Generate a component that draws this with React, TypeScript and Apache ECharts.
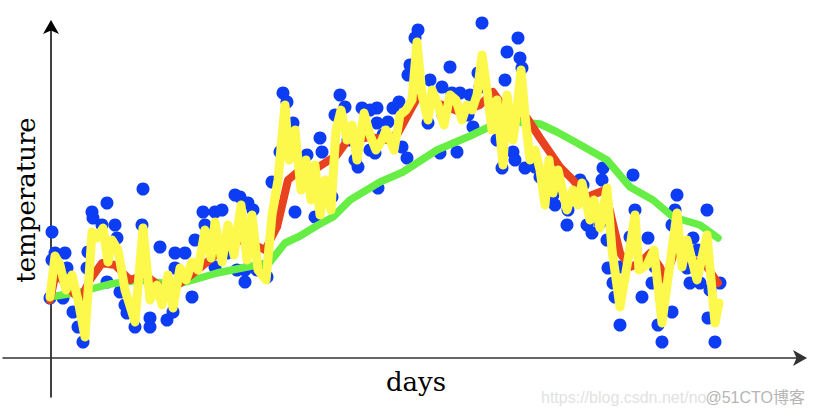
import React, { useEffect, useRef } from "react";
import * as echarts from "echarts";

// Blue measured points (day, temperature)
const blueDays = [-0.5, 0.5, 0.5, 2, 6, 7, 8, 11, 13.5, 16, 18, 18.5, 20.5, 21, 25.5, 28, 28, 32, 33, 34.5, 37, 38, 42, 45.5, 46, 49.5, 49.5, 54.5, 58, 61, 62, 62, 67, 70.5, 72, 76, 77, 82, 82, 85.5, 88, 92, 93, 94.5, 97, 97, 98.5, 101, 103, 108, 110.5, 114.5, 116, 118, 121, 122, 127, 128, 129.5, 132, 134.5, 135.5, 140.5, 142, 144.5, 147, 148.5, 152, 153.5, 155.5, 159.5, 159.5, 162, 163, 163, 163.5, 166, 168.5, 171, 174, 175.5, 178, 178.5, 179.5, 182, 183.5, 188.5, 189.5, 194.5, 195.5, 196, 199.5, 200.5, 203, 204.5, 208.5, 209.5, 211, 213.5, 214.5, 215.5, 223, 225.5, 227, 228, 231, 232, 233.5, 234.5, 235.5, 237, 242, 244.5, 248.5, 251, 252, 258, 258.5, 264.5, 266, 268, 270.5, 274.5, 275.5, 276, 278, 278.5, 281, 282, 284.5, 284.5, 289.5, 291, 292, 295.5, 298.5, 300.5, 302, 303.5, 305.5, 310.5, 310.5, 312, 313, 318, 319.5, 321, 323.5, 324.5, 328, 328.5, 329.5, 332, 334.5];
const blueTemps = [15, 31.5, 24.5, 26.25, 15, 26.25, 22.5, 11.5, 7.75, 4, 22.5, 26.5, 36.5, 35, 33.25, 38.75, 19, 33.25, 30, 16.5, 13.25, 11.25, 7.75, 33.25, 42.25, 10, 7.75, 27.75, 9.5, 11.5, 26.25, 22.5, 26.25, 15.25, 29.5, 36.5, 33.25, 36.5, 22.75, 37, 26.25, 40.75, 22, 40.25, 22, 19, 38.75, 37, 22, 20.25, 44, 51.5, 66.25, 64, 58.75, 36.5, 47.75, 50.75, 44.5, 35.25, 55, 51.5, 40.25, 60.75, 65.75, 62.75, 54.5, 49.5, 47.75, 62.5, 62, 52, 51.25, 62.5, 58.75, 42.5, 55.75, 59, 62.5, 64, 52.75, 50, 70.75, 73.25, 80, 82, 58.75, 69.5, 51.25, 67.75, 60.75, 72.75, 66.25, 51.5, 66.25, 60.75, 65.75, 57.75, 71.25, 67.75, 83.75, 54.5, 47.5, 69.5, 76.5, 51.5, 49.5, 80, 75, 72.5, 47.5, 47.75, 45.25, 40.25, 40.75, 38.25, 33.25, 37, 44.5, 43.25, 33.25, 31.25, 33.75, 44.5, 47.5, 29.5, 22.5, 18.75, 15.25, 8.25, 22.75, 30.25, 45.75, 37, 15.25, 30, 18.75, 22.75, 8.25, 4, 11.5, 33.25, 37, 40.75, 22.5, 18.75, 30, 27, 18.75, 37, 10, 17, 4, 18.75];

// Yellow curve (beta = 0.5)
const yellowDays = [-0.5, 2, 4.5, 7.5, 10.5, 13.5, 17, 20.5, 23, 26, 28.5, 30.5, 33.5, 37, 42, 46, 49.5, 53, 55.5, 58.5, 61, 64.5, 67.5, 70.5, 73.5, 77, 80, 82, 85.5, 88.5, 91.5, 95, 98, 100.5, 103.5, 107.5, 110.5, 113.5, 117, 119, 122, 125, 127.5, 130, 132, 134.5, 137, 140, 142.5, 145, 148, 150.5, 153, 156.5, 159.5, 162.5, 165.5, 167.5, 171.5, 174.5, 177.5, 180.5, 183, 185.5, 188.5, 190.5, 193.5, 196.5, 199.5, 202.5, 205.5, 208, 210.5, 213, 215.5, 218, 220.5, 223, 226, 228, 231, 233, 235, 237, 239.5, 242, 244.5, 247, 249, 251, 253.5, 258, 261, 263.5, 265.5, 269.5, 271.5, 274.5, 278, 280.5, 284.5, 288.5, 292, 294, 298, 301.5, 305.5, 308.5, 313, 315.5, 318, 323, 328, 332, 334];
const yellowTemps = [15.25, 25.5, 23.25, 17, 20.75, 14.5, 5.25, 31.5, 30, 32.5, 24, 29.5, 27, 17, 9, 32.5, 14.5, 18.25, 13.25, 20.75, 12.5, 22.5, 19.5, 24, 22, 32, 25, 34, 24, 33.25, 25.75, 38.25, 24.5, 35.75, 22, 19.5, 35.75, 44.5, 63.25, 49.5, 57, 42, 49.5, 39.5, 48.25, 35.75, 44.5, 37, 57, 62, 54.5, 58.25, 49.5, 61.25, 55.75, 52, 54.5, 57, 52, 60.75, 62, 64.5, 79, 65.75, 59.5, 67, 63.25, 58.25, 65.75, 64.5, 59.5, 63.25, 62, 65.75, 75.75, 67, 57, 64.5, 48.25, 65.75, 54.5, 62, 72, 60.75, 49.5, 52, 47, 38.25, 49.5, 41.25, 47, 37, 42, 38.25, 43.75, 34.5, 39.5, 32.5, 42.5, 27, 12.75, 24.5, 35.75, 22, 23.25, 27, 8.75, 20, 36.25, 22.75, 29.5, 19.5, 30.75, 8.75, 13.75];

// Red curve (beta = 0.9)
const redDays = [-0.5, 2.5, 7.5, 14.5, 19.5, 25.5, 32, 39.5, 47, 58, 67, 74.5, 81, 87, 94.5, 102, 107, 113, 118.5, 124.5, 133, 143, 148, 159.5, 168, 173.5, 183, 193, 204.5, 214.5, 221, 224.5, 232, 238, 244.5, 254.5, 261, 268, 277, 280.5, 284.5, 289.5, 294.5, 299.5, 304.5, 307, 312, 316, 321, 328, 333.5];
const redTemps = [14.5, 21.5, 18.25, 14.5, 19.5, 23.75, 23.25, 19.5, 20.75, 16.5, 19.5, 22.5, 25.25, 27.5, 29.5, 28.25, 27, 32.75, 44.5, 47, 47.5, 50.75, 54.25, 55.25, 54.5, 56.25, 65, 63.75, 61.5, 63.25, 66.5, 64, 61.5, 60, 55, 47.75, 44.5, 40.25, 42, 34.5, 26.25, 22.75, 23.75, 26.25, 22.75, 19.5, 27, 25.25, 24.5, 22.75, 18.75];

// Green curve (beta = 0.98)
const greenDays = [-0.5, 14.5, 29.5, 44.5, 62, 74.5, 83, 98, 109.5, 117, 124.5, 133.5, 141, 149.5, 164.5, 176, 193, 209.5, 221, 234.5, 244.5, 253, 263, 278, 289.5, 301, 311, 324.5, 333.5];
const greenTemps = [15.25, 16.5, 18.5, 19.5, 18.25, 20, 21.25, 22.75, 24, 28.75, 30.5, 33.25, 35.25, 39.5, 44, 46.5, 52, 55.5, 58.25, 59, 58.5, 56.5, 53.75, 49.5, 42.75, 39.5, 35.25, 33.25, 30];

const xLabel = "days";
const yLabel = "temperature";
const watermarkA = "https://blog.csdn.net/no";
const watermarkB = "@51CTO博客";

const pairs = (xs: number[], ys: number[]) => xs.map((x, i) => [x, ys[i]]);

export default function App() {
  const ref = useRef<HTMLDivElement>(null);
  useEffect(() => {
    if (!ref.current) return;
    const chart = echarts.init(ref.current, undefined, { renderer: "svg" });
    const lineCommon = {
      type: "line" as const,
      symbol: "none",
      smooth: false,
      silent: true,
    };
    chart.setOption({
      animation: false,
      backgroundColor: "#ffffff",
      grid: { left: 3, right: 9, top: 22, bottom: 19, containLabel: false },
      xAxis: {
        type: "value",
        min: -24,
        max: 377,
        axisLine: {
          show: true,
          onZero: true,
          symbol: ["none", "arrow"],
          symbolSize: [12, 14],
          symbolOffset: [0, 2],
          lineStyle: { color: "#333", width: 1.5 },
        },
        axisTick: { show: false },
        axisLabel: { show: false },
        splitLine: { show: false },
      },
      yAxis: {
        type: "value",
        min: -9.75,
        max: 84,
        axisLine: {
          show: true,
          onZero: true,
          symbol: ["none", "arrow"],
          symbolSize: [12, 14],
          symbolOffset: [0, 2],
          lineStyle: { color: "#000", width: 1.5 },
        },
        axisTick: { show: false },
        axisLabel: { show: false },
        splitLine: { show: false },
      },
      series: [
        {
          type: "scatter",
          data: pairs(blueDays, blueTemps),
          symbolSize: 13,
          itemStyle: { color: "#0c3cf3", opacity: 1 },
          z: 1,
        },
        {
          ...lineCommon,
          data: pairs(greenDays, greenTemps),
          lineStyle: { color: "#66ee44", width: 7.5, cap: "round", join: "round" },
          z: 2,
        },
        {
          ...lineCommon,
          data: pairs(redDays, redTemps),
          lineStyle: { color: "#e8421e", width: 8, cap: "round", join: "round" },
          z: 3,
        },
        {
          ...lineCommon,
          data: pairs(yellowDays, yellowTemps),
          lineStyle: { color: "#fdf84c", width: 9, cap: "round", join: "round" },
          z: 4,
        },
      ],
      graphic: [
        {
          type: "text",
          x: 26,
          y: 200,
          rotation: Math.PI / 2,
          style: {
            text: yLabel,
            font: '26px "DejaVu Serif"',
            fill: "#000",
            align: "center",
            verticalAlign: "middle",
          },
        },
        {
          type: "text",
          x: 416,
          y: 382,
          style: {
            text: xLabel,
            font: '26px "DejaVu Serif"',
            fill: "#000",
            align: "center",
            verticalAlign: "middle",
          },
        },
        {
          type: "text",
          x: 541,
          y: 397,
          style: {
            text: watermarkA,
            font: '16px "Liberation Sans", Arial, sans-serif',
            fill: "#e2e2e2",
            align: "left",
            verticalAlign: "middle",
          },
        },
        {
          type: "text",
          x: 805,
          y: 397,
          style: {
            text: watermarkB,
            font: '16px "Liberation Sans", "Noto Sans CJK SC", sans-serif',
            fill: "#b5b5b5",
            align: "right",
            verticalAlign: "middle",
          },
        },
      ],
    });
    return () => chart.dispose();
  }, []);
  return (
    <div
      ref={ref}
      style={{ position: "fixed", left: 0, top: 0, width: 814, height: 416 }}
    />
  );
}
